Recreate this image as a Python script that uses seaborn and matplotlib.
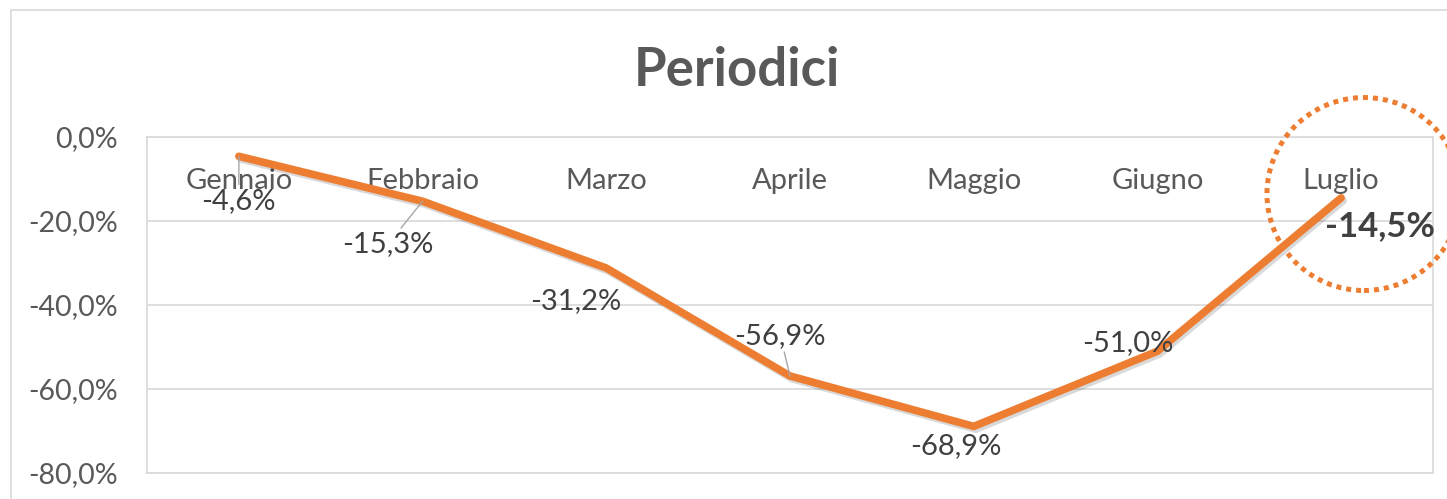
import matplotlib.pyplot as plt
import matplotlib.patheffects as pe
from matplotlib.patches import Ellipse, Rectangle
import pandas as pd
import seaborn as sns

mesi = ['Gennaio', 'Febbraio', 'Marzo', 'Aprile', 'Maggio', 'Giugno', 'Luglio']
valori = [-4.6, -15.3, -31.2, -56.9, -68.9, -51.0, -14.5]
y_ticks = [0, -20, -40, -60, -80]
# posizione etichette dati (offset in punti)
offset_etichette = [(0, -32), (-25, -31), (-22, -24), (-7, 29), (-13, -14), (-21, 6), (28, -20)]
leader = [True, True, False, True, False, False, False]

sns.set_style('white')
plt.rcParams['font.family'] = ['Lato', 'DejaVu Sans']

df = pd.DataFrame({'mese': mesi, 'valore': valori, 'pos': range(len(mesi))})

fig = plt.figure(figsize=(14.47, 4.99), dpi=100)
ax = fig.add_axes([147 / 1447, 1 - 473 / 499, (1433 - 147) / 1447, (473 - 137) / 499])

sns.lineplot(data=df, x='pos', y='valore', ax=ax, color='#ED7D31', linewidth=5.5, sort=False,
             solid_capstyle='round', solid_joinstyle='miter',
             path_effects=[pe.SimpleLineShadow(offset=(1.5, -2), alpha=0.15), pe.Normal()])

ax.set_xlim(-0.5, len(mesi) - 0.5)
ax.set_ylim(-80, 0)
ax.set_yticks(y_ticks)
ax.set_yticklabels([f'{v:.1f}%'.replace('.', ',') for v in y_ticks])
ax.set_xticks(range(len(mesi)))
ax.set_xticklabels(mesi)
ax.tick_params(axis='x', length=0, labelbottom=False, labeltop=True, pad=-41,
               labelsize=21, labelcolor='#595959')
ax.tick_params(axis='y', length=0, pad=21, labelsize=20.5, labelcolor='#595959')
ax.set_xlabel('')
ax.set_ylabel('')
ax.grid(axis='y', color='#D9D9D9', linewidth=1.2)
for s in ax.spines.values():
    s.set_color('#D9D9D9')
    s.set_linewidth(1.2)

# etichette dati
for i, (v, off) in enumerate(zip(valori, offset_etichette)):
    testo = f'{v:.1f}%'.replace('.', ',')
    ultimo = i == len(valori) - 1
    ax.annotate(testo, xy=(i, v), xytext=off, textcoords='offset points',
                ha='center', va='center',
                fontsize=25 if ultimo else 21,
                fontweight='bold' if ultimo else 'normal',
                color='#404040',
                arrowprops=dict(arrowstyle='-', color='#A6A6A6', lw=1, shrinkA=0, shrinkB=0)
                if leader[i] else None)

fig.suptitle('Periodici', x=737 / 1447, y=1 - 70 / 499, va='center',
             fontsize=38, fontweight='bold', color='#595959')

# cerchio tratteggiato su Luglio
fig.add_artist(Ellipse((1364 / 1447, 1 - 194 / 499), 194 / 1447, 193 / 499,
                       transform=fig.transFigure, fill=False, edgecolor='#ED7D31',
                       linewidth=3.6, linestyle=(0, (1, 1)), clip_on=False))

# bordo del grafico
fig.add_artist(Rectangle((11 / 1447, -0.1), 1.2, 1.1 - 10 / 499, transform=fig.transFigure,
                         fill=False, edgecolor='#D9D9D9', linewidth=1.2, clip_on=False))

fig.savefig('out.png', dpi=100)
